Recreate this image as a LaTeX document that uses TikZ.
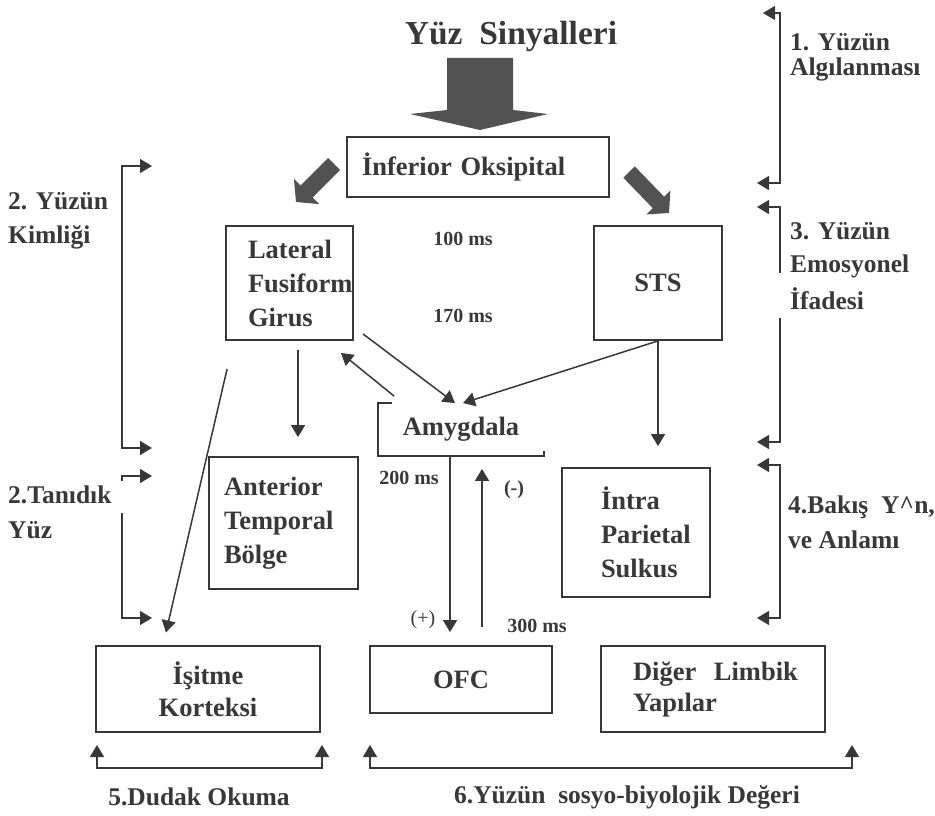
\documentclass[tikz,border=0pt]{standalone}
\usepackage{fontspec}
\setmainfont{Liberation Serif}
\usepackage{tikz}
\definecolor{ink}{rgb}{0.22, 0.22, 0.22}
\definecolor{slate}{rgb}{0.32, 0.32, 0.32}
\usetikzlibrary{arrows.meta}
\tikzset{
    box/.style={draw=ink, line width=1.8pt, text=ink, inner ysep=4pt,
        font=\fontsize{26.5}{34}\selectfont\bfseries},
    conn/.style={draw=ink, line width=1.5pt, -{Triangle[length=12pt,width=14pt]}},
    brk/.style={draw=ink, line width=1.5pt, {Triangle[length=12pt,width=14pt]}-{Triangle[length=12pt,width=14pt]}},
    side/.style={text=ink, inner sep=0pt, align=left, anchor=west,
        font=\fontsize{25.5}{24}\selectfont\bfseries},
    timing/.style={text=ink, inner sep=0pt, font=\fontsize{20}{20}\selectfont\bfseries}
}

\begin{document}
\begin{tikzpicture}[x=1pt, y=-1pt]
    \useasboundingbox (0,0) rectangle (935,816);

    \node[text=ink, font=\fontsize{33.5}{33.5}\selectfont\bfseries] (title) at (511,36) {Yüz\ \ Sinyalleri};
    \fill[slate] (447,58) -- (513,58) -- (513,110) -- (548,114) -- (480,130) -- (410,114) -- (447,110) -- cycle;

    \node[box, minimum height=60pt, text width=232pt, inner xsep=15pt, align=left] (inf) at (478,167) {İnferior Oksipital};
    \node[box, minimum height=114pt, text width=83pt, inner xsep=22pt, align=left] (lfg) at (289.5,283) {Lateral\\Fusiform\\Girus};
    \node[box, minimum width=128pt, minimum height=114pt] (sts) at (658,283) {STS};
    \node[box, draw=none, minimum width=164pt, minimum height=51pt] (amy) at (461,429.5) {Amygdala};
    \node[box, minimum height=132pt, text width=119pt, inner xsep=15pt, align=left] (atb) at (283.5,523) {Anterior\\Temporal\\Bölge};
    \node[box, minimum height=129pt, text width=70pt, inner xsep=39pt, align=left] (ips) at (636,532.5) {İntra\\Parietal\\Sulkus};
    \node[box, minimum width=224pt, minimum height=86pt, align=center, font=\fontsize{26.5}{32}\selectfont\bfseries] (isk) at (208,689) {İşitme\\Korteksi};
    \node[box, minimum width=182pt, minimum height=67pt] (ofc) at (461,679.5) {OFC};
    \node[box, minimum height=86pt, text width=160pt, inner xsep=32pt, align=left, font=\fontsize{26.5}{31}\selectfont\bfseries] (dly) at (713,689) {\mbox{Diğer\ \ Limbik}\\Yapılar};

    \fill[slate] (328,158) -- (340,170) -- (312.6,197.4) -- (319.3,204.1) -- (296,202) -- (293.9,178.7) -- (300.6,185.4) -- cycle;
    \fill[slate] (623.3,177.7) -- (634.7,166.3) -- (664.1,196.7) -- (670.4,190.4) -- (669,213) -- (646.4,214.4) -- (652.7,208.1) -- cycle;

    \draw[ink, line width=1.8pt] ([xshift=14pt]amy.north west) -- (amy.north west) -- (amy.south west) -- (amy.south east) -- ([yshift=5pt]amy.south east);

    \draw[conn, shorten <=9pt, shorten >=19pt] ([xshift=8.5pt]lfg.south) -- ([xshift=14.5pt]atb.north);
    \draw[conn, shorten >=13pt] ([shift={(2pt,-28pt)}]lfg.south west) -- ([xshift=-45pt]isk.north);
    \draw[conn] ([shift={(9pt,7pt)}]lfg.south east) -- ([xshift=-6pt]amy.north);
    \draw[conn] ([shift={(16pt,7pt)}]amy.north west) -- ([shift={(-13pt,-12pt)}]lfg.south east);
    \draw[conn] (sts.south) -- ([xshift=2pt]amy.north);
    \draw[conn, shorten >=21pt] (sts.south) -- (sts.south |- ips.north);
    \draw[conn, shorten >=13pt] ([xshift=-11pt]amy.south) -- ([xshift=-11pt]ofc.north);
    \draw[conn, shorten <=18pt, shorten >=13pt] ([xshift=21pt]ofc.north) -- ([xshift=21pt]amy.south);

    \node[timing] (t100) at (463,239) {100 ms};
    \node[timing] (t170) at (463,316) {170 ms};
    \node[timing] (t200) at (409,478) {200 ms};
    \node[timing] (t300) at (537,626) {300 ms};
    \node[timing, font=\fontsize{20}{20}\selectfont] (plus) at (423,620) {(+)};
    \node[timing] (minus) at (514,490) {(-)};

    \coordinate (r1a) at (763,13);
    \coordinate (r1b) at (757,183);
    \coordinate (r3a) at (757,207);
    \coordinate (r3b) at (757,442);
    \coordinate (r4a) at (757,465);
    \coordinate (r4b) at (757,618);
    \coordinate (l2a) at (152,166);
    \coordinate (l2b) at (152,448);
    \coordinate (l7a) at (152,476);
    \coordinate (l7b) at (152,618);
    \coordinate (b5a) at (97,745);
    \coordinate (b5b) at (322,745);
    \coordinate (b6a) at (370,745);
    \coordinate (b6b) at (852,745);

    \draw[brk] (r1a) -- ++(17,0) |- (r1b);
    \draw[conn] (780,273) |- (r3a);
    \draw[conn] (780,318) |- (r3b);
    \draw[brk] (r4a) -- ++(23,0) |- (r4b);
    \draw[brk] (l2a) -- ++(-30,0) |- (l2b);
    \draw[conn] (122,481) |- (l7a);
    \draw[conn] (122,513) |- (l7b);
    \draw[brk] (b5a) -- ++(0,23) -| (b5b);
    \draw[brk] (b6a) -- ++(0,23) -| (b6b);

    \node[side] (lab1) at (790,57) {1. Yüzün\\[1pt]Algılanması};
    \node[side] (lab3) at (790,266) {3. Yüzün\\[9pt]Emosyonel\\[9pt]İfadesi};
    \node[side] (lab2) at (8,221) {2. Yüzün\\[10pt]Kimliği};
    \node[side] (lab7) at (8,512) {2.Tanıdık\\[11pt]Yüz};
    \node[side] (lab4) at (788,522) {4.Bakış\ \ Y\textasciicircum{}n,\\[11pt]ve Anlamı};
    \node[side, anchor=center] (lab5) at (199,797) {5.Dudak Okuma};
    \node[side, anchor=center] (lab6) at (627,797) {6.Yüzün\ \ sosyo-biyolojik Değeri};
\end{tikzpicture}
\end{document}
